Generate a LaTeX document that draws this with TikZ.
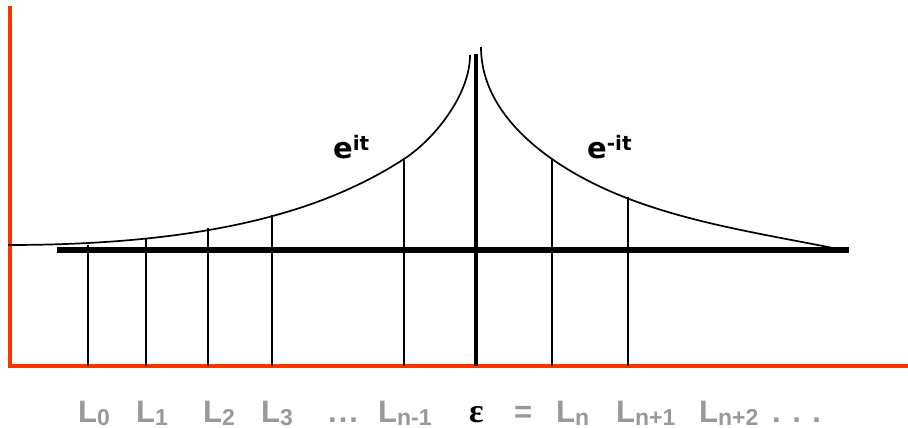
\documentclass[tikz,border=0pt]{standalone}
\usepackage{fontspec}
\setmainfont{Liberation Sans}
\newfontfamily\expfont{DejaVu Sans}
\newfontfamily\epsfont{Liberation Serif}
\definecolor{caxis}{HTML}{FF3300}
\definecolor{clabel}{HTML}{999999}
\newcommand{\lsub}[1]{\raisebox{-3pt}{\fontsize{23}{23}\selectfont #1}}
\tikzset{
  every picture/.style={x=1pt, y=-1pt},
  axis/.style={draw=caxis, line width=4pt, line join=miter},
  deck/.style={draw=black, line width=5.5pt},
  tower/.style={draw=black, line width=4pt},
  cable/.style={draw=black, line width=1.7pt},
  rung/.style={draw=black, line width=1.7pt},
  lbl/.style={text=clabel, font=\fontsize{31}{31}\selectfont\bfseries, inner sep=0pt, anchor=base west},
  expo/.style={font=\expfont\bfseries\fontsize{29}{29}\selectfont, inner sep=0pt, anchor=base west},
}

\begin{document}
\begin{tikzpicture}
  \useasboundingbox (0,0) rectangle (908,428);
  \draw[axis] (10,6) -- (10,366) -- (908,366);
  \draw[deck] (57,250) -- (849,250);
  \draw[tower] (476,54) -- (476,366);
  \draw[cable] (8,245) .. controls (208,245) and (324,211) .. (404,159) .. controls (434,139.5) and (470,95) .. (470,55);
  \draw[cable] (481,47) .. controls (481,97) and (517,134.5) .. (552,159) .. controls (632,215) and (738,229) .. (838,249);
  \foreach \x/\y in {88/245, 146/238.5, 208/228, 272/214.5, 404/159, 552/159, 628/197}
    \draw[rung] (\x,\y) -- (\x,366);
  \node[expo] (left exp) at (333,158) {e\raisebox{8pt}{\fontsize{20}{20}\selectfont it}};
  \node[expo] (right exp) at (587,158) {e\raisebox{8pt}{\fontsize{20}{20}\selectfont -it}};
  \node[lbl] (l0) at (78,422) {L\lsub{0}};
  \node[lbl] (l1) at (136,422) {L\lsub{1}};
  \node[lbl] (l2) at (203,422) {L\lsub{2}};
  \node[lbl] (l3) at (261,422) {L\lsub{3}};
  \node[lbl] (dots left) at (328,422) {.\hspace{2pt}.\hspace{2pt}.};
  \node[lbl] (lnm1) at (378,422) {L\lsub{n-1}};
  \node[lbl, text=black, font=\epsfont\bfseries\fontsize{34}{34}\selectfont] (eps) at (469,422) {ε};
  \node[lbl] (eq) at (514,422) {=};
  \node[lbl] (ln) at (556,422) {L\lsub{n}};
  \node[lbl] (lnp1) at (616,422) {L\lsub{n+1}};
  \node[lbl] (lnp2) at (699,422) {L\lsub{n+2}};
  \node[lbl] (dots right) at (772,422) {. . .};
\end{tikzpicture}
\end{document}
